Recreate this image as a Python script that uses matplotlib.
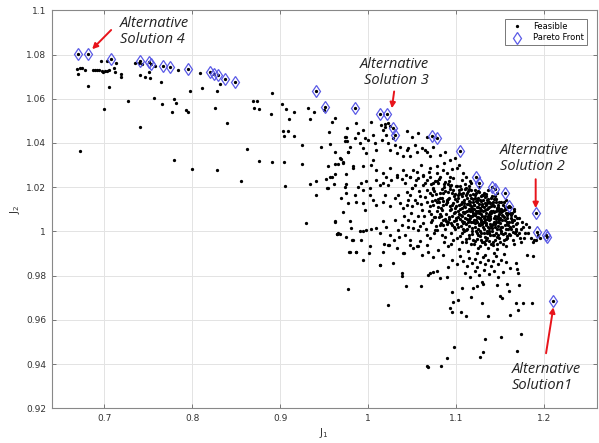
import matplotlib
matplotlib.use("Agg")
import matplotlib.pyplot as plt
import numpy as np

# ---------------- data ----------------
pareto_j1 = [0.6696, 0.6810, 0.7076, 0.7399, 0.7505, 0.7532, 0.7664, 0.7748, 0.7949,
             0.8204, 0.8249, 0.8290, 0.8367, 0.8484, 0.9411, 0.9506, 0.9851, 1.0129,
             1.0215, 1.0280, 1.0306, 1.0721, 1.0778, 1.1043, 1.1226, 1.1256, 1.1404,
             1.1442, 1.1552, 1.1605, 1.1905, 1.1917, 1.2023, 1.2038, 1.2106]
pareto_j2 = [1.0802, 1.0802, 1.0779, 1.0771, 1.0768, 1.0758, 1.0749, 1.0743, 1.0735,
             1.0723, 1.0714, 1.0707, 1.0691, 1.0675, 1.0633, 1.0565, 1.0560, 1.0533,
             1.0533, 1.0470, 1.0437, 1.0431, 1.0422, 1.0364, 1.0248, 1.0218, 1.0201,
             1.0194, 1.0173, 1.0115, 1.0085, 0.9996, 0.9984, 0.9976, 0.9686]

feasible_upper_left = [
    (0.6685, 1.0735), (0.6704, 1.0713), (0.6727, 1.0740), (0.6746, 1.0738), (0.6784, 1.0731),
    (0.6723, 1.0364), (0.6818, 1.0659), (0.6867, 1.0728), (0.6894, 1.0729), (0.6913, 1.0732),
    (0.6962, 1.0772), (0.6943, 1.0728), (0.6970, 1.0726), (0.6989, 1.0722), (0.7011, 1.0725),
    (0.7030, 1.0726), (0.7027, 1.0769), (0.7049, 1.0729), (0.7053, 1.0654), (0.7000, 1.0553),
    (0.7106, 1.0738), (0.7118, 1.0720), (0.7133, 1.0760), (0.7190, 1.0714), (0.7190, 1.0698),
    (0.7270, 1.0591), (0.7353, 1.0763), (0.7391, 1.0764), (0.7399, 1.0707), (0.7399, 1.0473),
    (0.7429, 1.0758), (0.7459, 1.0698), (0.7505, 1.0719), (0.7513, 1.0696), (0.7558, 1.0604),
    (0.7577, 1.0746), (0.7638, 1.0675), (0.7653, 1.0577), (0.7767, 1.0538), (0.7793, 1.0601),
    (0.7793, 1.0322), (0.7816, 1.0580), (0.7831, 1.0728), (0.7926, 1.0550), (0.7945, 1.0538),
    (0.7976, 1.0634), (0.7998, 1.0284), (0.8082, 1.0717), (0.8112, 1.0649), (0.8253, 1.0560),
    (0.8276, 1.0278), (0.8279, 1.0633), (0.8310, 1.0668), (0.8397, 1.0490), (0.8553, 1.0226),
    (0.8621, 1.0373), (0.8686, 1.0591), (0.8697, 1.0560), (0.8735, 1.0591), (0.8762, 1.0555),
    (0.8758, 1.0319), (0.8898, 1.0530), (0.8902, 1.0628), (0.8910, 1.0313), (0.9024, 1.0576),
    (0.9035, 1.0455), (0.9043, 1.0432), (0.9039, 1.0316), (0.9050, 1.0206), (0.9062, 1.0555),
    (0.9100, 1.0508), (0.9092, 1.0453), (0.9153, 1.0431), (0.9160, 1.0538),
]

feasible_upper_mid = [
    (0.9316, 1.0559), (0.9380, 1.0541), (0.9502, 1.0550), (0.9339, 1.0508), (0.9620, 1.0515),
    (0.9593, 1.0494), (0.9756, 1.0467), (0.9555, 1.0449), (0.9741, 1.0429), (0.9760, 1.0411),
    (0.9775, 1.0358), (0.9251, 1.0392), (0.9460, 1.0384), (0.9570, 1.0396), (0.9623, 1.0357),
    (0.9677, 1.0330), (0.9692, 1.0327), (0.9715, 1.0313), (0.9661, 1.0304), (0.9623, 1.0303),
    (0.9548, 1.0298), (0.9251, 1.0306), (0.9563, 1.0245), (0.9586, 1.0245), (0.9518, 1.0236),
    (0.9411, 1.0229), (0.9342, 1.0214), (0.9540, 1.0195), (0.9616, 1.0214), (0.9737, 1.0200),
    (0.9753, 1.0215), (0.9297, 1.0040), (0.9620, 1.0042), (0.9642, 0.9987), (0.9403, 1.0165),
    (0.9536, 1.0196), (0.9753, 1.0429), (0.9734, 1.0407), (0.9791, 1.0384), (0.9772, 1.0361),
    (0.9866, 1.0490), (0.9885, 1.0444), (0.9847, 1.0422), (0.9904, 1.0399), (0.9942, 1.0459),
    (0.9961, 1.0422), (0.9942, 1.0376), (0.9999, 1.0414), (0.9980, 1.0354), (1.0037, 1.0497),
    (1.0056, 1.0437), (1.0075, 1.0399), (1.0094, 1.0369), (1.0056, 1.0324), (1.0151, 1.0482),
    (1.0170, 1.0459), (1.0189, 1.0474), (1.0208, 1.0437), (1.0162, 1.0414), (1.0227, 1.0399),
    (1.0246, 1.0369), (1.0284, 1.0422), (1.0303, 1.0392), (1.0322, 1.0354), (1.0360, 1.0384),
    (1.0398, 1.0339), (1.0436, 1.0369), (1.0455, 1.0376), (1.0474, 1.0339), (1.0531, 1.0392),
    (1.0550, 1.0361), (1.0607, 1.0376), (1.0645, 1.0369), (1.0664, 1.0361), (1.0702, 1.0339),
    (1.0740, 1.0384), (1.0816, 1.0346), (1.0873, 1.0361), (1.0930, 1.0324), (1.0987, 1.0331),
    (1.0436, 1.0452), (1.0493, 1.0429), (1.0569, 1.0444), (1.0664, 1.0429), (1.0195, 1.0485),
    (1.0222, 1.0492), (1.0248, 1.0478),
    (0.9715, 1.0309), (0.9829, 1.0286), (0.9942, 1.0294), (1.0037, 1.0301), (1.0094, 1.0278),
    (1.0170, 1.0263), (1.0246, 1.0286), (1.0322, 1.0256), (1.0398, 1.0278), (1.0474, 1.0248),
    (1.0550, 1.0271), (1.0626, 1.0256), (1.0702, 1.0286), (1.0778, 1.0263), (1.0854, 1.0278),
    (1.0930, 1.0248), (1.1006, 1.0286), (1.1082, 1.0263),
]

feasible_mid = [
    (0.9620, 1.0258), (0.9753, 1.0258), (0.9829, 1.0295), (0.9885, 1.0200), (0.9923, 1.0218),
    (0.9980, 1.0226), (0.9942, 1.0188), (1.0018, 1.0196), (1.0026, 1.0165), (1.0094, 1.0233),
    (1.0132, 1.0211), (1.0170, 1.0218), (1.0208, 1.0248), (1.0227, 1.0211), (1.0265, 1.0233),
    (1.0322, 1.0248), (1.0379, 1.0236), (1.0417, 1.0218), (1.0474, 1.0248), (1.0436, 1.0180),
    (1.0493, 1.0196), (1.0531, 1.0211), (1.0569, 1.0241), (1.0626, 1.0251), (1.0645, 1.0218),
    (1.0702, 1.0248), (1.0740, 1.0196), (1.0778, 1.0226), (1.0664, 1.0188),
    (0.9696, 1.0150), (0.9753, 1.0173), (0.9772, 1.0128), (0.9847, 1.0165), (0.9866, 1.0135),
    (0.9942, 1.0128), (0.9961, 1.0097), (1.0056, 1.0143), (1.0094, 1.0120), (1.0170, 1.0135),
    (1.0189, 1.0165), (1.0246, 1.0113), (1.0303, 1.0150), (1.0341, 1.0165), (1.0360, 1.0128),
    (1.0398, 1.0105), (1.0455, 1.0143), (1.0493, 1.0113), (1.0550, 1.0128), (1.0588, 1.0158),
    (1.0607, 1.0097), (1.0664, 1.0135), (1.0702, 1.0113), (1.0759, 1.0143),
    (0.9620, 1.0045), (0.9658, 0.9992), (0.9715, 1.0090), (0.9798, 1.0045), (0.9809, 1.0014),
    (0.9828, 0.9962), (0.9904, 1.0000), (0.9942, 1.0000), (0.9980, 1.0007), (1.0037, 1.0010),
    (1.0094, 1.0014), (1.0132, 0.9992), (1.0170, 1.0045), (1.0208, 1.0022), (1.0246, 0.9984),
    (1.0303, 1.0052), (1.0341, 1.0007), (1.0379, 1.0030), (1.0417, 0.9984), (1.0455, 1.0052),
    (1.0474, 0.9962), (1.0512, 1.0014), (1.0569, 1.0007), (1.0588, 0.9955), (1.0626, 1.0037),
    (1.0664, 0.9984), (1.0702, 0.9969), (1.0759, 1.0007), (1.0816, 1.0030), (1.0873, 0.9977),
    (0.9791, 0.9909), (0.9866, 0.9909), (0.9942, 0.9871), (1.0018, 0.9932), (1.0170, 0.9909),
    (1.0227, 0.9939), (1.0322, 0.9924), (1.0398, 0.9901), (1.0474, 0.9939), (1.0550, 0.9932),
    (1.0607, 0.9894), (1.0683, 0.9909), (1.0740, 0.9886), (1.0797, 0.9916), (1.0854, 0.9894),
    (1.0911, 0.9932), (1.0132, 0.9849), (1.0284, 0.9856),
    (1.0412, 1.0072), (1.0438, 1.0118), (1.0455, 1.0021), (1.0471, 1.0164), (1.0486, 1.0083),
    (1.0503, 1.0196), (1.0521, 1.0049), (1.0534, 1.0142), (1.0547, 1.0231), (1.0562, 1.0071),
    (1.0578, 1.0183), (1.0591, 1.0026), (1.0604, 1.0123), (1.0618, 1.0209), (1.0633, 1.0068),
    (1.0647, 1.0157), (1.0659, 1.0012), (1.0672, 1.0233), (1.0686, 1.0094), (1.0698, 1.0176),
    (1.0711, 1.0041), (1.0726, 1.0137), (1.0738, 1.0221), (1.0752, 1.0063), (1.0766, 1.0168),
    (1.0781, 1.0005), (1.0793, 1.0111), (1.0807, 1.0238), (1.0822, 1.0079), (1.0836, 1.0152),
    (1.0849, 1.0027), (1.0863, 1.0199), (1.0877, 1.0056), (1.0892, 1.0133), (1.0905, 1.0216),
    (1.0428, 1.0256), (1.0512, 1.0279), (1.0596, 1.0302), (1.0688, 1.0271), (1.0779, 1.0294),
    (1.0863, 1.0311), (1.0951, 1.0283), (1.1036, 1.0301), (1.1117, 1.0244), (1.1163, 1.0226),
]

feasible_core = [
    (1.0712, 1.0213), (1.0734, 1.0118), (1.0751, 1.0184), (1.0723, 1.0052), (1.0786, 1.0093),
    (1.0763, 1.0229), (1.0745, 0.9991), (1.0794, 1.0147), (1.0718, 1.0081), (1.0772, 1.0024),
    (1.0738, 1.0192), (1.0781, 1.0131), (1.0757, 1.0066), (1.0797, 1.0221), (1.0726, 1.0163),
    (1.0815, 1.0246), (1.0832, 1.0106), (1.0853, 1.0172), (1.0827, 1.0038), (1.0884, 1.0081),
    (1.0861, 1.0213), (1.0842, 0.9982), (1.0896, 1.0144), (1.0809, 1.0067), (1.0873, 1.0012),
    (1.0836, 1.0193), (1.0882, 1.0124), (1.0851, 1.0053), (1.0893, 1.0262), (1.0822, 1.0151),
    (1.0867, 0.9951), (1.0844, 1.0098), (1.0871, 1.0181), (1.0803, 1.0132), (1.0899, 1.0034),
    (1.0918, 1.0226), (1.0931, 1.0115), (1.0957, 1.0173), (1.0924, 1.0058), (1.0983, 1.0087),
    (1.0962, 1.0242), (1.0946, 0.9993), (1.0991, 1.0146), (1.0907, 1.0041), (1.0974, 1.0019),
    (1.0935, 1.0191), (1.0985, 1.0108), (1.0952, 1.0072), (1.0996, 1.0204), (1.0921, 1.0153),
    (1.0968, 0.9962), (1.0943, 1.0102), (1.0971, 1.0161), (1.0902, 1.0131), (1.0994, 1.0051),
    (1.0938, 0.9941), (1.0963, 1.0129), (1.0913, 1.0177), (1.0988, 1.0011), (1.0947, 1.0212),
    (1.0976, 1.0083), (1.0926, 1.0096), (1.0955, 1.0031),
    (1.1013, 1.0207), (1.1036, 1.0121), (1.1058, 1.0169), (1.1024, 1.0063), (1.1081, 1.0089),
    (1.1062, 1.0232), (1.1041, 0.9978), (1.1093, 1.0142), (1.1009, 1.0032), (1.1074, 1.0012),
    (1.1033, 1.0188), (1.1086, 1.0113), (1.1051, 1.0074), (1.1097, 1.0193), (1.1022, 1.0152),
    (1.1065, 0.9953), (1.1045, 1.0101), (1.1072, 1.0162), (1.1004, 1.0114), (1.1092, 1.0043),
    (1.1031, 0.9922), (1.1063, 1.0133), (1.1016, 1.0164), (1.1084, 1.0003), (1.1047, 1.0204),
    (1.1071, 1.0071), (1.1027, 1.0092), (1.1056, 1.0024), (1.1002, 1.0061), (1.1067, 1.0046),
    (1.1094, 1.0083), (1.1038, 1.0079), (1.1053, 1.0126), (1.1082, 1.0174), (1.1014, 0.9971),
    (1.1114, 1.0198), (1.1133, 1.0122), (1.1156, 1.0163), (1.1128, 1.0058), (1.1183, 1.0091),
    (1.1167, 1.0218), (1.1141, 0.9983), (1.1192, 1.0134), (1.1109, 1.0034), (1.1175, 1.0014),
    (1.1136, 1.0181), (1.1181, 1.0107), (1.1153, 1.0072), (1.1196, 1.0171), (1.1122, 1.0149),
    (1.1164, 0.9942), (1.1147, 1.0102), (1.1173, 1.0153), (1.1101, 1.0111), (1.1194, 1.0042),
    (1.1131, 0.9913), (1.1161, 1.0131), (1.1117, 1.0163), (1.1186, 1.0004), (1.1142, 1.0193),
    (1.1178, 1.0068), (1.1124, 1.0093), (1.1152, 1.0023), (1.1106, 1.0062), (1.1168, 1.0041),
    (1.1197, 1.0082), (1.1134, 1.0073), (1.1158, 1.0121), (1.1189, 1.0148), (1.1112, 0.9968),
    (1.1143, 1.0052), (1.1171, 1.0101), (1.1127, 1.0012), (1.1162, 1.0092), (1.1193, 0.9961),
    (1.1214, 1.0186), (1.1238, 1.0109), (1.1252, 1.0153), (1.1226, 1.0052), (1.1284, 1.0078),
    (1.1263, 1.0203), (1.1242, 0.9968), (1.1293, 1.0122), (1.1211, 1.0021), (1.1277, 1.0003),
    (1.1231, 1.0172), (1.1286, 1.0098), (1.1257, 1.0062), (1.1291, 1.0163), (1.1223, 1.0139),
    (1.1266, 0.9933), (1.1244, 1.0091), (1.1273, 1.0143), (1.1203, 1.0101), (1.1295, 1.0032),
    (1.1236, 0.9902), (1.1261, 1.0122), (1.1217, 1.0151), (1.1282, 0.9992), (1.1246, 1.0181),
    (1.1271, 1.0061), (1.1228, 1.0083), (1.1254, 1.0013), (1.1207, 1.0052), (1.1264, 1.0032),
    (1.1297, 1.0071), (1.1233, 1.0063), (1.1251, 1.0112), (1.1283, 1.0137), (1.1212, 0.9958),
    (1.1241, 1.0043), (1.1272, 1.0092), (1.1222, 1.0004), (1.1262, 1.0083), (1.1292, 0.9951),
    (1.1215, 1.0073), (1.1253, 0.9982), (1.1276, 1.0027), (1.1234, 1.0131), (1.1285, 1.0044),
    (1.1317, 1.0176), (1.1331, 1.0097), (1.1354, 1.0141), (1.1322, 1.0043), (1.1383, 1.0072),
    (1.1361, 1.0188), (1.1344, 0.9962), (1.1392, 1.0114), (1.1313, 1.0012), (1.1374, 0.9991),
    (1.1336, 1.0158), (1.1381, 1.0087), (1.1352, 1.0054), (1.1394, 1.0149), (1.1324, 1.0128),
    (1.1363, 0.9924), (1.1342, 1.0083), (1.1371, 1.0131), (1.1303, 1.0092), (1.1396, 1.0023),
    (1.1333, 0.9893), (1.1366, 1.0108), (1.1311, 1.0142), (1.1384, 0.9982), (1.1341, 1.0168),
    (1.1374, 1.0051), (1.1327, 1.0072), (1.1355, 1.0004), (1.1304, 1.0041), (1.1362, 1.0022),
    (1.1391, 1.0062), (1.1332, 1.0053), (1.1353, 1.0101), (1.1386, 1.0128), (1.1314, 0.9951),
    (1.1345, 1.0031), (1.1372, 1.0081), (1.1321, 0.9992), (1.1364, 1.0072), (1.1393, 0.9942),
    (1.1318, 1.0062), (1.1351, 0.9972), (1.1377, 1.0017), (1.1335, 1.0119), (1.1388, 1.0034),
    (1.1412, 1.0162), (1.1436, 1.0088), (1.1454, 1.0131), (1.1423, 1.0034), (1.1482, 1.0061),
    (1.1463, 1.0172), (1.1441, 0.9961), (1.1493, 1.0102), (1.1412, 1.0003), (1.1473, 0.9983),
    (1.1432, 1.0148), (1.1484, 1.0079), (1.1451, 1.0042), (1.1491, 1.0133), (1.1424, 1.0118),
    (1.1461, 0.9922), (1.1443, 1.0071), (1.1472, 1.0119), (1.1402, 1.0082), (1.1494, 1.0011),
    (1.1434, 0.9903), (1.1462, 1.0098), (1.1415, 1.0131), (1.1483, 0.9972), (1.1446, 1.0158),
    (1.1471, 1.0043), (1.1426, 1.0062), (1.1453, 0.9991), (1.1405, 1.0031), (1.1464, 1.0012),
    (1.1492, 1.0052), (1.1433, 1.0041), (1.1457, 1.0091), (1.1481, 1.0112), (1.1418, 0.9951),
    (1.1444, 1.0021), (1.1476, 1.0068), (1.1421, 0.9982), (1.1465, 1.0061), (1.1497, 0.9953),
    (1.1512, 1.0131), (1.1536, 1.0072), (1.1553, 1.0112), (1.1523, 1.0021), (1.1584, 1.0043),
    (1.1562, 1.0142), (1.1541, 0.9961), (1.1594, 1.0083), (1.1513, 0.9992), (1.1574, 0.9978),
    (1.1532, 1.0121), (1.1582, 1.0062), (1.1551, 1.0031), (1.1592, 1.0111), (1.1521, 1.0092),
    (1.1563, 0.9932), (1.1543, 1.0063), (1.1571, 1.0102), (1.1503, 1.0061), (1.1593, 1.0012),
    (1.1534, 0.9942), (1.1562, 1.0082), (1.1514, 1.0102), (1.1583, 0.9972), (1.1546, 1.0131),
    (1.1574, 1.0033), (1.1524, 1.0052), (1.1552, 0.9993), (1.1506, 1.0022), (1.1566, 1.0013),
    (1.1613, 1.0112), (1.1632, 1.0052), (1.1654, 1.0091), (1.1622, 1.0013), (1.1684, 1.0032),
    (1.1661, 1.0102), (1.1643, 0.9962), (1.1693, 1.0062), (1.1614, 0.9982), (1.1672, 0.9993),
    (1.1634, 1.0083), (1.1682, 1.0012), (1.1652, 1.0024), (1.1694, 0.9983), (1.1623, 1.0062),
    (1.1663, 0.9942), (1.1641, 1.0043), (1.1674, 1.0071), (1.1604, 1.0041), (1.1611, 1.0082),
    (1.1712, 1.0062), (1.1734, 1.0013), (1.1753, 1.0042), (1.1723, 0.9972), (1.1784, 0.9991),
    (1.1762, 1.0021), (1.1741, 0.9953), (1.1793, 1.0032), (1.1716, 0.9993), (1.1772, 0.9971),
    (1.1821, 0.9992), (1.1853, 0.9972), (1.1882, 0.9963), (1.1912, 0.9961), (1.1951, 0.9972),
    (1.1832, 1.0021), (1.1872, 0.9952), (1.1934, 0.9983),
]

feasible_core_extra = [
    (1.0905, 1.0148), (1.0917, 1.0067), (1.0929, 1.0205), (1.0944, 1.0036), (1.0958, 1.0121),
    (1.0966, 1.0187), (1.0979, 1.0049), (1.0993, 1.0168), (1.1007, 1.0139), (1.1019, 1.0018),
    (1.1028, 1.0176), (1.1043, 1.0057), (1.1055, 1.0194), (1.1068, 1.0108), (1.1079, 1.0039),
    (1.1088, 1.0128), (1.1098, 1.0214), (1.1104, 1.0086), (1.1113, 1.0007), (1.1119, 1.0176),
    (1.1126, 1.0124), (1.1138, 1.0044), (1.1145, 1.0138), (1.1151, 1.0205), (1.1159, 1.0059),
    (1.1166, 1.0113), (1.1174, 1.0189), (1.1179, 0.9987), (1.1187, 1.0076), (1.1199, 1.0121),
    (1.1205, 1.0118), (1.1211, 1.0037), (1.1219, 1.0163), (1.1225, 1.0094), (1.1232, 0.9991),
    (1.1239, 1.0141), (1.1247, 1.0066), (1.1255, 1.0178), (1.1259, 1.0028), (1.1268, 1.0104),
    (1.1274, 0.9978), (1.1279, 1.0158), (1.1288, 1.0051), (1.1294, 1.0114), (1.1302, 1.0163),
    (1.1309, 1.0022), (1.1316, 1.0109), (1.1323, 0.9974), (1.1329, 1.0154), (1.1338, 1.0036),
    (1.1346, 1.0128), (1.1349, 0.9993), (1.1358, 1.0066), (1.1365, 1.0148), (1.1369, 1.0003),
    (1.1378, 1.0112), (1.1385, 1.0057), (1.1397, 1.0093), (1.1403, 1.0128), (1.1409, 1.0016),
    (1.1417, 1.0093), (1.1428, 0.9982), (1.1435, 1.0117), (1.1439, 1.0034), (1.1448, 1.0146),
    (1.1456, 1.0058), (1.1466, 0.9974), (1.1469, 1.0104), (1.1477, 1.0023), (1.1486, 1.0092),
    (1.1495, 1.0038), (1.1507, 1.0087), (1.1516, 1.0004), (1.1527, 1.0073), (1.1538, 0.9989),
    (1.1545, 1.0098), (1.1557, 1.0052), (1.1567, 0.9968), (1.1577, 1.0074), (1.1588, 1.0027),
    (1.1597, 0.9987), (1.1608, 1.0021), (1.1627, 1.0076), (1.1645, 0.9998), (1.1658, 1.0051),
    (1.1679, 1.0004), (1.1697, 1.0036), (1.0856, 1.0118), (1.0874, 1.0223), (1.0889, 1.0045),
    (1.0812, 1.0173), (1.0831, 1.0068), (1.0848, 1.0139), (1.1062, 0.9991), (1.1108, 0.9952),
    (1.1151, 0.9972), (1.1203, 0.9941), (1.1247, 0.9924), (1.1288, 0.9963), (1.1325, 0.9941),
    (1.1379, 0.9958), (1.1416, 0.9937), (1.1467, 0.9941),
]

feasible_lower = [
    (0.9771, 0.9740), (1.0227, 0.9669), (1.0428, 0.9754), (1.0599, 0.9751), (1.0379, 0.9811),
    (1.0379, 0.9799), (1.0132, 0.9846), (1.0011, 0.9901), (0.9780, 0.9906), (0.9863, 0.9909),
    (0.9818, 0.9962), (0.9920, 0.9962), (0.9650, 0.9987), (0.9677, 0.9987), (0.9753, 0.9977),
    (1.0182, 0.9944), (1.0239, 0.9939), (1.0296, 0.9962), (1.0353, 0.9977), (1.0410, 0.9901),
    (1.0505, 0.9924), (1.0569, 0.9935), (1.0664, 0.9939), (1.0683, 0.9803), (1.0702, 0.9811),
    (1.0740, 0.9818), (1.0778, 0.9823), (1.0816, 0.9788), (1.0892, 0.9793), (1.0911, 0.9841),
    (1.0953, 0.9728), (1.1063, 0.9743), (1.0930, 0.9652), (1.0949, 0.9637), (1.0968, 0.9683),
    (1.1025, 0.9690), (1.1055, 0.9637), (1.1112, 0.9619), (1.1165, 0.9702), (1.1196, 0.9743),
    (1.1234, 0.9751), (1.1291, 0.9773), (1.1302, 0.9761), (1.1291, 0.9678), (1.1359, 0.9619),
    (1.1462, 0.9758), (1.1500, 0.9710), (1.1519, 0.9698), (1.1576, 0.9761), (1.1606, 0.9732),
    (1.1614, 0.9622), (1.1682, 0.9678), (1.1708, 0.9645), (1.1758, 0.9678), (1.1861, 0.9675),
    (1.1682, 0.9856), (1.1690, 0.9829), (1.1708, 0.9811), (1.1712, 0.9758), (1.1803, 0.9894),
    (1.1879, 0.9891), (1.1735, 0.9536), (1.1511, 0.9521), (1.1329, 0.9512), (1.1302, 0.9456),
    (1.1272, 0.9434), (1.1697, 0.9459), (1.0976, 0.9479), (1.0900, 0.9426), (1.0828, 0.9393),
    (1.0664, 0.9393), (1.0683, 0.9386),
    (1.0952, 0.9872), (1.1013, 0.9853), (1.1046, 0.9889), (1.1082, 0.9866), (1.1124, 0.9843),
    (1.1151, 0.9881), (1.1183, 0.9858), (1.1214, 0.9876), (1.1242, 0.9839), (1.1273, 0.9862),
    (1.1301, 0.9884), (1.1334, 0.9851), (1.1362, 0.9873), (1.1393, 0.9842), (1.1421, 0.9868),
    (1.1453, 0.9887), (1.1482, 0.9853), (1.1514, 0.9871), (1.1546, 0.9896), (1.1572, 0.9862),
    (1.1103, 0.9812), (1.1157, 0.9793), (1.1211, 0.9821), (1.1263, 0.9802), (1.1318, 0.9826),
    (1.1372, 0.9807), (1.1426, 0.9819), (1.1478, 0.9796), (1.1532, 0.9815), (1.1613, 0.9836),
]

x_ticks = [0.7, 0.8, 0.9, 1.0, 1.1, 1.2]
x_tick_labels = ["0.7", "0.8", "0.9", "1", "1.1", "1.2"]
y_ticks = [0.92, 0.94, 0.96, 0.98, 1.0, 1.02, 1.04, 1.06, 1.08, 1.1]
y_tick_labels = ["0.92", "0.94", "0.96", "0.98", "1", "1.02", "1.04", "1.06", "1.08", "1.1"]

# annotations: (text, text position, arrow tail, arrow head, alignment)
annotations = [
    ("Alternative\nSolution 4", (0.7179, 1.0975), (0.7076, 1.0911), (0.6860, 1.0824), "left"),
    ("Alternative\nSolution 3", (1.0690, 1.0790), (1.0295, 1.0633), (1.0269, 1.0557), "right"),
    ("Alternative\nSolution 2", (1.1499, 1.0400), (1.1905, 1.0236), (1.1905, 1.0105), "left"),
    ("Alternative\nSolution1", (1.1632, 0.9411), (1.2023, 0.9449), (1.2106, 0.9657), "left"),
]

# ---------------- plot ----------------
all_feasible = (feasible_upper_left + feasible_upper_mid + feasible_mid
                + feasible_core + feasible_core_extra + feasible_lower)
fx = [p[0] for p in all_feasible] + pareto_j1
fy = [p[1] for p in all_feasible] + pareto_j2

fig = plt.figure(figsize=(5.99, 4.43), dpi=100)
ax = fig.add_axes([0.0863, 0.0783, 0.9100, 0.8984])

ax.plot(fx, fy, '.', color='black', markersize=2.7, linestyle='none', label='Feasible')
ax.plot(pareto_j1, pareto_j2, 'd', markerfacecolor='none', markeredgecolor='#5a5ae6',
        markeredgewidth=0.9, markersize=6.5, linestyle='none', label='Pareto Front')

ax.set_xlim(0.64, 1.26)
ax.set_ylim(0.92, 1.1)
ax.set_xticks(x_ticks)
ax.set_xticklabels(x_tick_labels)
ax.set_yticks(y_ticks)
ax.set_yticklabels(y_tick_labels)
ax.grid(True, color='#e3e3e3', linewidth=0.7)
ax.set_axisbelow(True)
ax.tick_params(direction='in', length=3, width=0.7, colors='#777777', labelcolor='#333333',
               labelsize=6.5, top=True, right=True, pad=4)
for s in ax.spines.values():
    s.set_color('#888888')
    s.set_linewidth(0.8)

ax.set_xlabel(r'J$_1$', fontsize=7.5, color='#333333', labelpad=2)
ax.set_ylabel(r'J$_2$', fontsize=7.5, color='#333333', labelpad=3)

leg = ax.legend(loc='upper right', fontsize=6, frameon=True, fancybox=False,
                edgecolor='#555555', borderpad=0.35, handlelength=2.2, borderaxespad=0,
                bbox_to_anchor=(0.982, 0.978), labelspacing=0.3, markerscale=1.0)
leg.get_frame().set_linewidth(0.7)

for text, tpos, tail, head, ha in annotations:
    ax.text(tpos[0], tpos[1], text, fontsize=10.5, style='italic', family='Open Sans',
            color='#222222', ha=ha, va='top', multialignment=ha, linespacing=1.1)
    ax.annotate('', xy=head, xytext=tail,
                arrowprops=dict(arrowstyle='-|>', color='#e8141b', lw=1.4,
                                mutation_scale=8, shrinkA=0, shrinkB=0))

fig.savefig('out.png', dpi=100)
